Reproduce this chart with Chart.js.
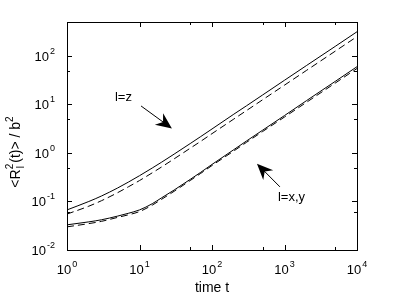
<!DOCTYPE html>
<html>
<head>
<meta charset="utf-8">
<script src="https://cdn.jsdelivr.net/npm/chart.js@4"></script>
<style>
  html, body { margin: 0; padding: 0; background: #fff; }
  canvas { display: block; }
</style>
</head>
<body>
<canvas id="chart" width="395" height="297"></canvas>
<script>
// time points and <R_l^2(t)>/b^2
const times = [1, 2, 3, 5, 7, 10, 15, 20, 30, 50, 70, 100, 200, 300, 500, 1000, 2000, 5000, 10000]
const zSolid = [0.067, 0.10, 0.13, 0.19, 0.25, 0.34, 0.49, 0.64, 0.945, 1.56, 2.18, 3.12, 6.3, 9.4, 15.7, 31.5, 63, 157, 315]
const zDashed = [0.055, 0.08, 0.104, 0.152, 0.2, 0.27, 0.39, 0.51, 0.755, 1.25, 1.74, 2.5, 5.0, 7.5, 12.5, 25, 50, 125, 250]
const xySolid = [0.033, 0.038, 0.042, 0.05, 0.057, 0.067, 0.09, 0.118, 0.172, 0.285, 0.4, 0.58, 1.17, 1.77, 2.95, 5.9, 11.9, 29.8, 60]
const xyDashed = [0.030, 0.035, 0.039, 0.047, 0.053, 0.062, 0.084, 0.11, 0.162, 0.27, 0.38, 0.55, 1.1, 1.66, 2.77, 5.5, 11, 27.5, 55]

const xTicks = [1, 10, 100, 1000, 10000]
const yTicks = [0.01, 0.1, 1, 10, 100]

const FONT = '"Liberation Sans", Arial, Helvetica, sans-serif'

// labels + arrows (data coords)
const notes = [
  { text: 'l=z', x: 6.0, y: 13.8, from: [10.5, 9.3], to: [28, 3.2] },
  { text: 'l=x,y', x: 1250, y: 0.124, from: [865, 0.2], to: [417, 0.6] }
]

function series(vals) {
  return times.map((t, i) => ({ x: t, y: vals[i] }))
}

function isPow10(v) {
  const l = Math.log10(v)
  return Math.abs(l - Math.round(l)) < 1e-9
}

function drawPow(ctx, exp, x, y, align) {
  ctx.font = '13px ' + FONT
  const bw = ctx.measureText('10').width
  ctx.font = '9px ' + FONT
  const ew = ctx.measureText(exp).width
  const total = bw + ew + 1
  let x0 = align === 'center' ? x - total / 2 : x - total
  ctx.textAlign = 'left'
  ctx.textBaseline = 'alphabetic'
  ctx.font = '13px ' + FONT
  ctx.fillText('10', x0, y)
  ctx.font = '9px ' + FONT
  ctx.fillText(exp, x0 + bw + 1, y - 7)
}

function drawArrow(ctx, x1, y1, x2, y2) {
  const a = Math.atan2(y2 - y1, x2 - x1)
  const L = 16, W = 7, N = 5
  ctx.beginPath()
  ctx.moveTo(x1, y1)
  ctx.lineTo(x2 - Math.cos(a) * N, y2 - Math.sin(a) * N)
  ctx.stroke()
  const bx = x2 - Math.cos(a) * L, by = y2 - Math.sin(a) * L
  const nx = x2 - Math.cos(a) * (L - N), ny = y2 - Math.sin(a) * (L - N)
  ctx.beginPath()
  ctx.moveTo(x2, y2)
  ctx.lineTo(bx - Math.sin(a) * W, by + Math.cos(a) * W)
  ctx.lineTo(nx, ny)
  ctx.lineTo(bx + Math.sin(a) * W, by - Math.cos(a) * W)
  ctx.closePath()
  ctx.fill()
}

const decor = {
  id: 'decor',
  afterDraw(chart) {
    const { ctx, chartArea: a, scales } = chart
    const xs = scales.x, ys = scales.y
    ctx.save()
    ctx.strokeStyle = '#000'
    ctx.fillStyle = '#000'
    ctx.lineWidth = 1

    // frame
    ctx.strokeRect(Math.round(a.left) + 0.5, Math.round(a.top) + 0.5,
      Math.round(a.right - a.left), Math.round(a.bottom - a.top))

    // inward ticks, all four sides
    ctx.beginPath()
    xs.ticks.forEach(t => {
      const len = isPow10(t.value) ? 5 : 3
      const px = Math.round(xs.getPixelForValue(t.value)) + 0.5
      ctx.moveTo(px, a.bottom); ctx.lineTo(px, a.bottom - len)
      ctx.moveTo(px, a.top); ctx.lineTo(px, a.top + len)
    })
    ys.ticks.forEach(t => {
      if (t.value > ys.max) return
      const len = isPow10(t.value) ? 5 : 3
      const py = Math.round(ys.getPixelForValue(t.value)) + 0.5
      ctx.moveTo(a.left, py); ctx.lineTo(a.left + len, py)
      ctx.moveTo(a.right, py); ctx.lineTo(a.right - len, py)
    })
    ctx.stroke()

    // tick labels
    xTicks.forEach(v => {
      drawPow(ctx, String(Math.round(Math.log10(v))), xs.getPixelForValue(v), a.bottom + 24, 'center')
    })
    yTicks.forEach(v => {
      drawPow(ctx, String(Math.round(Math.log10(v))), a.left - 12, ys.getPixelForValue(v) + 5, 'right')
    })

    // x title
    ctx.font = '14px ' + FONT
    ctx.textAlign = 'center'
    ctx.textBaseline = 'alphabetic'
    ctx.fillText('time t', (a.left + a.right) / 2, 292)

    // y title: <R_l^2(t)> / b^2
    ctx.save()
    ctx.translate(20, 152)
    ctx.rotate(-Math.PI / 2)
    ctx.textAlign = 'left'
    const big = '14px ' + FONT, small = '10px ' + FONT
    ctx.font = big
    const w1 = ctx.measureText('<R').width
    const w3 = ctx.measureText('(t)> / b').width
    ctx.font = small
    const w2 = Math.max(ctx.measureText('2').width, ctx.measureText('l').width) + 1
    const w4 = ctx.measureText('2').width
    let x = -(w1 + w2 + w3 + w4) / 2
    ctx.font = big; ctx.fillText('<R', x, 0); x += w1
    ctx.font = small; ctx.fillText('2', x, -7); ctx.fillText('l', x + 1, 4); x += w2
    ctx.font = big; ctx.fillText('(t)> / b', x, 0); x += w3
    ctx.font = small; ctx.fillText('2', x, -7)
    ctx.restore()

    // annotations
    ctx.font = '13px ' + FONT
    ctx.textAlign = 'center'
    ctx.textBaseline = 'middle'
    notes.forEach(n => {
      ctx.fillText(n.text, xs.getPixelForValue(n.x), ys.getPixelForValue(n.y))
      drawArrow(ctx,
        xs.getPixelForValue(n.from[0]), ys.getPixelForValue(n.from[1]),
        xs.getPixelForValue(n.to[0]), ys.getPixelForValue(n.to[1]))
    })
    ctx.restore()
  }
}

function line(vals, dashed) {
  return {
    data: series(vals),
    borderColor: '#000',
    borderWidth: 1,
    borderDash: dashed ? [7, 4] : [],
    pointRadius: 0,
    cubicInterpolationMode: 'monotone',
    fill: false
  }
}

new Chart(document.getElementById('chart'), {
  type: 'line',
  data: {
    datasets: [line(zSolid, false), line(zDashed, true), line(xySolid, false), line(xyDashed, true)]
  },
  options: {
    responsive: false,
    animation: false,
    layout: { padding: { left: 67, top: 22, right: 38, bottom: 47 } },
    plugins: { legend: { display: false }, tooltip: { enabled: false } },
    scales: {
      x: { type: 'logarithmic', min: 1, max: 10000, display: false },
      y: { type: 'logarithmic', min: 0.01, max: 500, display: false }
    }
  },
  plugins: [decor]
})
</script>
</body>
</html>
